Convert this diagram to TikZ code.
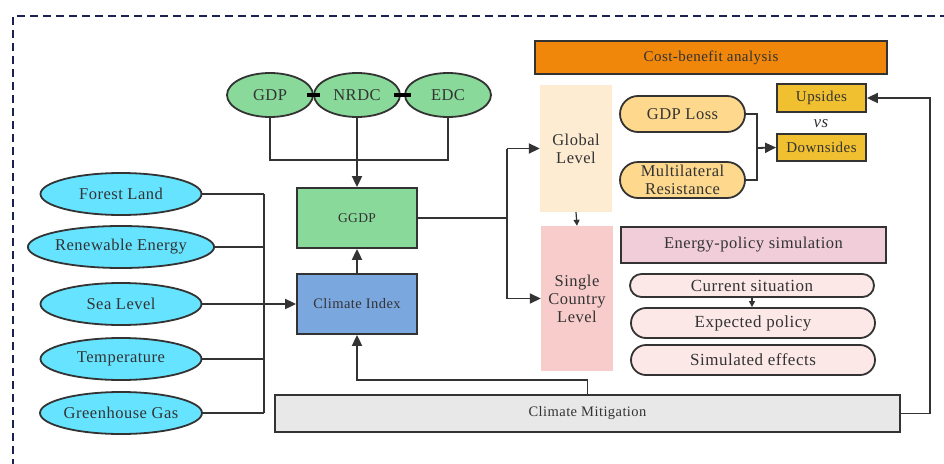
\documentclass[tikz,border=0pt]{standalone}
\usepackage{fontspec}
\setmainfont[LetterSpace=3]{Liberation Serif}
\usetikzlibrary{arrows.meta,shapes.geometric}
\definecolor{ln}{HTML}{333333}
\definecolor{navy}{HTML}{1B2150}
\definecolor{ggreen}{HTML}{88D99A}
\definecolor{cblue}{HTML}{7BA7DF}
\definecolor{cyanf}{HTML}{66E3FF}
\definecolor{orangef}{HTML}{F0860A}
\definecolor{peach}{HTML}{FDEBD2}
\definecolor{pinkf}{HTML}{F9CCCC}
\definecolor{sandf}{HTML}{FDD88D}
\definecolor{goldf}{HTML}{F0C030}
\definecolor{mauve}{HTML}{F0CDD8}
\definecolor{pale}{HTML}{FDE8E8}
\definecolor{greyf}{HTML}{E8E8E8}
\newcommand{\fs}[1]{\rmfamily\fontsize{#1}{18}\selectfont}
\begin{document}
\begin{tikzpicture}[x=1pt,y=-1pt,
  every node/.style={text=ln, inner sep=0pt, align=center},
  ln/.style={draw=ln, line width=1.8pt},
  arr/.style={ln, -{Triangle[length=11pt,width=10pt]}},
  sarr/.style={draw=ln, line width=1.2pt, -{Triangle[length=6pt,width=6pt]}},
  topell/.style={ellipse, draw=ln, line width=1.8pt, fill=ggreen, minimum width=86pt, minimum height=44pt, font=\fs{16.5}},
  leftell/.style={ellipse, draw=ln, line width=1.8pt, fill=cyanf, minimum width=161pt, minimum height=42pt, font=\fs{16.5}},
  sqbox/.style={rectangle, draw=ln, line width=1.8pt},
  pill/.style={rectangle, draw=ln, line width=1.8pt},
  lvl/.style={rectangle, draw=none, font=\fs{16.5}}
]
\useasboundingbox (0,0) rectangle (944,463);
\begin{scope}
\clip (0,0) rectangle (944,463);
\draw[navy, line width=1.6pt, dash pattern=on 8pt off 5pt] (13,480) -- (13,16) -- (960,16);
\end{scope}

% top ellipses
\node[topell] (gdp) at (270,95) {GDP};
\node[topell] (nrdc) at (357,95) {NRDC};
\node[topell] (edc) at (448,95) {EDC};
\draw[black, line width=4pt] ([xshift=-7pt]gdp.east) -- ([xshift=7pt]nrdc.west);
\draw[black, line width=4pt] ([xshift=-7pt]nrdc.east) -- ([xshift=7pt]edc.west);

% central boxes
\node[sqbox, fill=ggreen, minimum width=120pt, minimum height=60pt, font=\fs{13.5}] (ggdp) at (357,218) {GGDP};
\node[sqbox, fill=cblue, minimum width=120pt, minimum height=60pt, font=\fs{14.5}] (ci) at (357,304) {Climate Index};

\coordinate (tb) at (357,160);
\draw[ln] (gdp.south) |- (tb) -| (edc.south);
\draw[arr] (nrdc.south) -- (ggdp.north);
\draw[arr] (ci.north) -- (ggdp.south);

% left ellipses
\node[leftell] (fl) at (121,194) {Forest Land};
\node[leftell] (re) at (121,247) {Renewable Energy};
\node[leftell] (sl) at (121,304) {Sea Level};
\node[leftell] (te) at (121,359) {Temperature};
\node[leftell] (gg) at (121,413) {Greenhouse Gas};
\coordinate (lb) at (264,0);
\foreach \n in {fl,re,te,gg} {\draw[ln] (\n.east) -- (\n.east -| lb);}
\draw[ln] (fl.east -| lb) -- (gg.east -| lb);
\draw[arr] (sl.east) -- (ci.west);

% levels
\node[lvl, fill=peach, minimum width=72pt, minimum height=127pt] (gl) at (576,148.5) {Global\\Level};
\node[lvl, fill=pinkf, minimum width=72pt, minimum height=145pt] (sc) at (577,298.5) {Single\\Country\\Level};
\draw[sarr] (gl.south) -- (sc.north);

\coordinate (rb) at (507,0);
\draw[ln] (ggdp.east) -- (ggdp.east -| rb);
\draw[ln] (gl.west -| rb) -- (sc.west -| rb);
\draw[arr] (gl.west -| rb) -- (gl.west);
\draw[arr] (sc.west -| rb) -- (sc.west);

% cost-benefit
\node[sqbox, fill=orangef, minimum width=352pt, minimum height=33pt, font=\fs{15}] (cba) at (711,57.5) {Cost-benefit analysis};
\node[pill, fill=sandf, rounded corners=18pt, minimum width=125pt, minimum height=36pt, font=\fs{16.5}] (gloss) at (682.5,114) {GDP Loss};
\node[pill, fill=sandf, rounded corners=18pt, minimum width=125pt, minimum height=36pt, font=\fs{16.5}] (mr) at (682.5,180) {Multilateral\\Resistance};
\node[sqbox, fill=goldf, minimum width=89pt, minimum height=28pt, font=\fs{15}] (up) at (821.5,98) {Upsides};
\node[sqbox, fill=goldf, minimum width=89pt, minimum height=27pt, font=\fs{15}] (down) at (821.5,147.5) {Downsides};
\node[font=\fs{17}\itshape] (vs) at (821,124) {vs};
\coordinate (jn) at (757,148);
\draw[ln] (gloss.east) -| (jn) |- (mr.east);
\draw[arr] (jn) -- (down.west);

% energy policy
\node[sqbox, fill=mauve, minimum width=265pt, minimum height=36pt, font=\fs{16.5}] (eps) at (753.5,245) {Energy-policy simulation};
\node[pill, fill=pale, rounded corners=11.5pt, minimum width=244pt, minimum height=23pt, font=\fs{17}] (cs) at (752,285.5) {Current situation};
\node[pill, fill=pale, rounded corners=15pt, minimum width=244pt, minimum height=30pt, font=\fs{17}] (ep) at (753,323) {Expected policy};
\node[pill, fill=pale, rounded corners=15pt, minimum width=244pt, minimum height=30pt, font=\fs{17}] (se) at (753,360) {Simulated effects};
\draw[sarr] (cs.south) -- (cs.south |- ep.north);

% climate mitigation
\node[sqbox, fill=greyf, minimum width=625pt, minimum height=37pt, font=\fs{14.5}] (cm) at (587.5,413.5) {Climate Mitigation};
\coordinate (cmj) at (357,380);
\draw[arr] (cm.north) |- (cmj) -- (ci.south);
\coordinate (rr) at (930,98);
\draw[arr] (cm.east) -| (rr) -- (up.east);
\end{tikzpicture}
\end{document}
